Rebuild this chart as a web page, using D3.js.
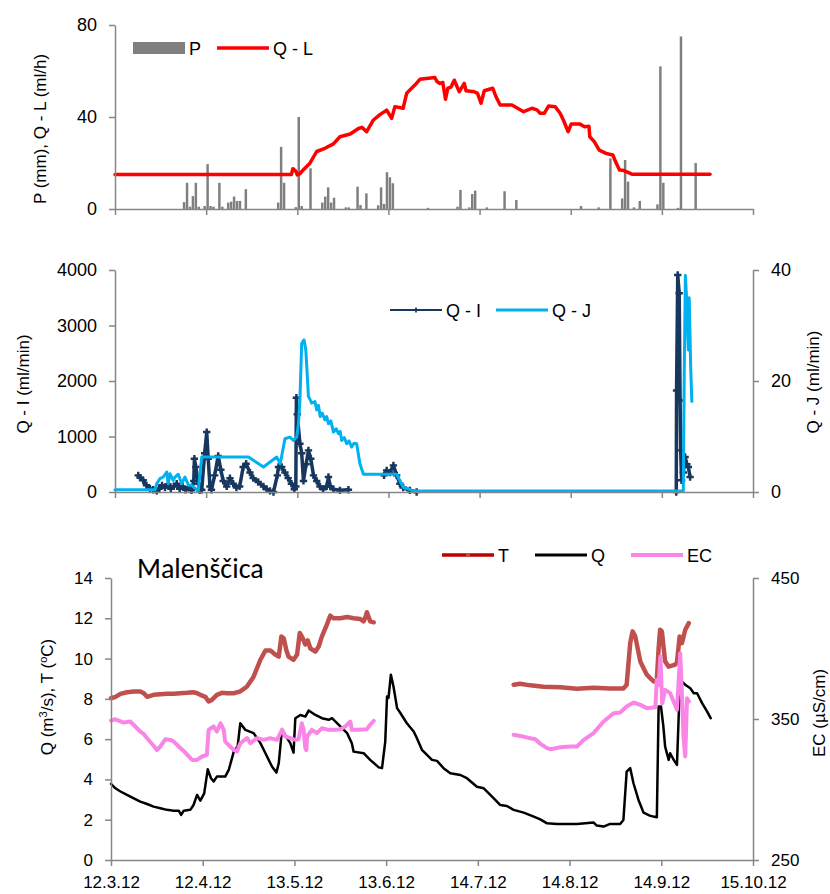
<!DOCTYPE html>
<html>
<head>
<meta charset="utf-8">
<script src="https://cdn.jsdelivr.net/npm/d3@7"></script>
<style>
  body { margin: 0; background: #fff; }
  svg { font-family: "Liberation Sans", Arial, sans-serif; }
</style>
</head>
<body>
<svg id="chart" width="830" height="894"></svg>
<script>
// every x value is the number of days since 12.3.2012
var START = Date.UTC(2012, 2, 12);
var tickDays = [0, 31, 62, 93, 124, 155, 186, 217];
var tickLabels = ['12.3.12', '12.4.12', '13.5.12', '13.6.12', '14.7.12', '14.8.12', '14.9.12', '15.10.12'];

// daily precipitation P (mm)
var pDays = [23, 24, 25, 26, 27, 28, 30, 31, 32, 33, 35, 36, 38, 39, 40, 41, 42, 44, 55, 56, 57, 61, 62, 63, 66,
  70, 71, 72, 73, 74, 78, 79, 82, 83, 85, 89, 90, 91, 92, 93, 94, 106, 116, 117, 120, 121, 122, 126, 132, 136,
  158, 164, 168, 172, 173, 174, 176, 178, 184, 185, 186, 191, 192, 197];
var pValues = [3, 11.4, 1, 5.6, 11.4, 1, 1.3, 19.5, 1.3, 1, 11.4, 1, 2.8, 3.2, 5.4, 3.5, 3.5, 8.6, 2.8, 27, 11.4, 0.8, 40, 1.3, 17.7,
  2.8, 5.4, 9.4, 2.8, 4.9, 0.7, 0.7, 9.7, 1.7, 6.8, 1.6, 9.4, 2.2, 16, 13.8, 11.2, 0.5, 1, 8.3, 0.7, 6.5, 8, 0.7, 7.7, 3.9,
  1.3, 0.7, 22, 4.6, 21.3, 11.9, 0.7, 3.5, 2, 62, 11.4, 0.5, 75, 20];

// Q - L (ml/h)
var qL = [[0, 15], [60, 15], [60.5, 17.5], [61.5, 16.5], [62, 14.8], [63, 15.5], [64, 17], [66.3, 19.9], [68.6, 25],
  [71.4, 26.4], [74.3, 28.3], [76.5, 31.4], [80, 32.6], [82.8, 35], [84, 35.5], [85.6, 33.6], [87.9, 38.7], [90, 40.9],
  [92.4, 43], [94.1, 39.4], [95.2, 44.5], [98, 43.8], [99.2, 50.3], [102, 53.9], [103.7, 56.4], [108.8, 57.2],
  [109.5, 55.4], [110.5, 54.6], [111.5, 55], [112.4, 47.7], [113.2, 52.5], [114.3, 53], [115.4, 56], [117.1, 51],
  [118.8, 54.6], [119.4, 51.4], [122.2, 51], [123.3, 50.3], [124.5, 46], [125.6, 51.4], [128.5, 52.5], [129.6, 48.8],
  [131, 45.2], [135, 45.2], [139, 42.3], [141.8, 43.8], [143.5, 43.1], [144.6, 41.6], [146, 41.6], [147.5, 44.8],
  [149.7, 44.5], [151.4, 41.6], [152.5, 38.7], [154.1, 33.6], [155.2, 37], [158, 37], [159.7, 35.8], [161.2, 36],
  [161.5, 31.4], [163, 29.3], [164.7, 25.6], [167, 24.2], [169.3, 23.5], [170.5, 19.9], [171.6, 17], [173.1, 16.7],
  [176, 15.1], [202.4, 15.1]];

// Q - I (ml/min), null = no record
var qI = [[7.9, 300], [8.5, 260], [9.6, 210], [10.7, 120], [11.9, 60], [13, 40], [14.2, 20], [15, 60], [16, 120], [17, 80],
  [18, 140], [19, 60], [20, 100], [21, 150], [22, 60], [23, 100], [24, 40], [25, 80], [26, 30], [26.8, 200], [27, 600],
  [27.5, 450], [28.3, 150], [28.8, 30], [29.5, 40], [30.5, 700], [31.2, 1080], [31.7, 600], [32.3, 100], [32.8, 40],
  [33.9, 300], [35.1, 650], [36, 400], [36.8, 200], [38, 100], [39.1, 250], [40.2, 150], [41.3, 80], [42.4, 100],
  [43.6, 450], [44.6, 510], [45.9, 350], [47, 250], [48.7, 180], [50.5, 100], [51.6, 50], [52.7, 20], [53.9, 0],
  [55.2, 300], [55.6, 450], [56.7, 450], [57.8, 350], [58.9, 250], [60, 150], [61, 50], [61.5, 100], [61.7, 1700],
  [62, 1400], [62.9, 870], [63.5, 700], [64.1, 200], [65, 500], [65.8, 750], [66.6, 600], [67.5, 300], [68.6, 200],
  [69.7, 100], [70.8, 50], [72, 100], [72.6, 270], [73.2, 100], [74.3, 50], [76.5, 30], [79.4, 40], [80, null],
  [91.5, 300], [92.4, 390], [93.5, 350], [94.7, 480], [95.8, 300], [96.9, 150], [98, 80], [100.3, 30], [102.6, 0],
  [103, null], [190.9, 0], [191, 1830], [191.4, 3910], [191.9, 3580], [192.2, 1650], [192.4, 750], [192.7, 210],
  [193.3, 350], [193.9, 630], [194.5, 500], [195, 450], [195.6, 270]];

// Q - J (ml/min), right axis
var qJ = [[0, 0.4], [13.6, 0.4], [14.2, 1.5], [15.3, 2.4], [16.4, 2.7], [17.6, 3.6], [18.1, 1.5], [18.7, 3.3], [19.8, 2.1],
  [20.4, 2.7], [21.5, 3.2], [22.7, 1.5], [23.8, 2.7], [25, 1.2], [26.1, 1.2], [28.3, 0.2], [29.5, 6.3], [45.4, 6.3],
  [50.5, 4.5], [55, 6.3], [56.2, 5.1], [57.8, 9.6], [59.5, 9.9], [60.7, 9.3], [61.8, 9.9], [62.4, 12.3], [62.9, 16.6],
  [63.5, 26.8], [64.3, 27.4], [64.9, 25.6], [65.8, 17.2], [66.4, 16.6], [66.9, 16], [68, 16.3], [68.6, 14.8],
  [69.2, 15.6], [69.8, 13.6], [70.5, 14.2], [71.4, 13], [72, 13.6], [72.6, 12.3], [73.4, 12.8], [74.3, 10.8],
  [75.2, 11.4], [76, 10.5], [76.6, 10.9], [77.1, 9.3], [78, 9.8], [78.8, 8.7], [79.6, 9.2], [80.5, 8.1], [81.3, 8.8],
  [82.2, 8.7], [83.3, 5.1], [84.5, 3.2], [95.8, 3.2], [98, 0.9], [101.5, 0.2], [193.3, 0.2], [193.6, 20.8],
  [194, 39], [194.4, 35], [195, 25.6], [195.3, 35], [195.8, 22.6], [196.2, 16.3]];

// Malenščica: T (°C), Q (m3/s), EC (µS/cm)
var tData = [[0, 8.03], [1.5, 8.1], [3.2, 8.25], [5.4, 8.33], [7.7, 8.37], [9.9, 8.37], [11.1, 8.28], [12.2, 8.1],
  [14.4, 8.2], [16.7, 8.23], [18.9, 8.25], [21.2, 8.25], [23.4, 8.28], [25.7, 8.3], [27.9, 8.33], [29.1, 8.28],
  [30.2, 8.2], [31.9, 8.1], [33, 7.87], [34.1, 7.95], [35.8, 8.2], [37.5, 8.3], [39.2, 8.28], [41.5, 8.28],
  [43.7, 8.37], [45.9, 8.6], [48.2, 9.1], [50.5, 9.94], [52.2, 10.4], [53.9, 10.4], [55.5, 10.2], [56.7, 10.1],
  [57.6, 11.1], [58.4, 11], [59.3, 10.4], [60, 10.1], [61.7, 9.94], [62.9, 10.2], [63.8, 11.27], [64.5, 11.1],
  [65.7, 10.7], [66.5, 10.9], [67.4, 10.5], [69.1, 10.35], [70.2, 10.6], [71.3, 11.1], [73, 11.7], [74.1, 12.13],
  [75.2, 12], [77.5, 12], [79.8, 12.06], [82, 12], [84.3, 11.96], [85.4, 11.85], [86, 12.05], [86.5, 12.3],
  [87.6, 11.85], [88.8, 11.8], [100, null],
  [136.1, 8.7], [138.3, 8.75], [141.7, 8.67], [146.2, 8.6], [151.9, 8.58], [157.5, 8.5], [163.1, 8.55], [168.7, 8.52],
  [173.2, 8.52], [174.3, 8.7], [175.5, 10.77], [176.3, 11.35], [177.2, 11.1], [178.9, 9.86], [181.1, 9.2],
  [183.4, 8.86], [184.5, 8.95], [185.1, 10.5], [185.6, 11.43], [186.2, 11.35], [187.3, 9.86], [188.5, 9.6],
  [190.7, 9.7], [191.3, 9.8], [192.2, 11.1], [193, 10.77], [194.1, 11.43], [195.3, 11.76]];

var qData = [[0, 3.78], [1.5, 3.56], [3.2, 3.4], [5.4, 3.23], [7.7, 3.06], [9.9, 2.9], [12.2, 2.78], [14.4, 2.65],
  [16.7, 2.57], [18.9, 2.49], [21.2, 2.45], [22.9, 2.45], [23.7, 2.24], [24.6, 2.45], [26.8, 2.49], [27.9, 2.73],
  [29.1, 3.23], [30.2, 2.95], [31.5, 3.31], [32.7, 4.5], [33.8, 4.06], [34.7, 3.9], [35.8, 4.14], [38.6, 4.14],
  [39.8, 4.47], [41.5, 5.38], [42.8, 5.63], [43.7, 6.79], [45.4, 6.46], [48.2, 6.3], [50.5, 5.8], [52.2, 5.3],
  [53.3, 4.97], [54.4, 4.64], [55.9, 4.34], [56.7, 4.8], [57.8, 6.5], [59.5, 6.05], [60.6, 5.8], [61.7, 5.33],
  [62.3, 7.04], [64, 7.2], [65.7, 7.12], [66.8, 7.42], [69.1, 7.2], [71.3, 7.04], [73.6, 6.96], [74.7, 7.04],
  [76.4, 6.79], [79.8, 6.3], [81.4, 5.8], [82, 5.38], [85.4, 5.3], [87.6, 4.97], [90.5, 4.6], [91.6, 4.56],
  [92.7, 5.88], [93.3, 8.12], [93.8, 8.05], [94.6, 9.2], [95.5, 8.6], [96.7, 7.54], [97.8, 7.3], [100, 6.79],
  [102.3, 6.38], [103.4, 6.05], [105.1, 5.47], [106.8, 5.22], [108.5, 4.97], [110.2, 4.92], [112.4, 4.56],
  [114.7, 4.31], [118.1, 4.22], [120.3, 4.06], [123.7, 3.64], [126, 3.56], [128.8, 3.15], [131.6, 2.73],
  [133.8, 2.68], [136.1, 2.49], [139.5, 2.35], [142.9, 2.15], [145.1, 2.02], [147.4, 1.82], [150.7, 1.79],
  [157.5, 1.79], [163.1, 1.86], [164.2, 1.71], [166.5, 1.66], [168.7, 1.79], [172.1, 1.79], [173.2, 1.99],
  [174.3, 4.39], [175.5, 4.56], [176.6, 3.81], [178.3, 2.98], [180, 2.35], [182.3, 2.19], [184.5, 2.12],
  [185.1, 7.62], [185.9, 7.62], [186.7, 6.63], [187.3, 5.63], [188.5, 4.97], [189, 5.3], [190.2, 4.97],
  [191.3, 4.72], [192, 7.62], [193, 8.86], [194.1, 8.7], [195.8, 8.53], [197, 8.28], [198.1, 8.28], [199.8, 7.79],
  [201.5, 7.37], [202.7, 7.04]];

var ecData = [[0, 348.9], [1.5, 349.8], [4.3, 347.5], [6.5, 348.2], [8.2, 344.7], [9.9, 341.1], [11, 339.5], [12.2, 336.4],
  [14.4, 331], [15.5, 328], [16.7, 330.5], [18.4, 335.7], [20.1, 335.2], [21.2, 334], [22.9, 330.5], [25.1, 326.2],
  [27.4, 321], [29.1, 321], [30.8, 323.4], [32.4, 324.6], [33, 342.3], [34.7, 344.7], [35.8, 341.1], [37, 347],
  [38.1, 342.3], [38.6, 334], [40.3, 330.5], [41.5, 328.1], [42.6, 327], [43.7, 332.8], [46, 336.4], [47.1, 332.8],
  [49.3, 336.4], [51.6, 335.2], [53.8, 336.4], [56.1, 335.2], [57.8, 342.3], [58.9, 337.6], [60.6, 336.4],
  [62.3, 335.2], [63.4, 335.7], [64.5, 347], [65.1, 342.3], [65.7, 329.3], [66, 328], [66.3, 337.6], [67.9, 342.3],
  [69.6, 340], [71.3, 343.5], [73.6, 342.3], [75.8, 342.3], [77.5, 342.8], [79.2, 344.7], [80.9, 348.2],
  [81.4, 342.3], [83.1, 342.3], [86.5, 342.8], [87.6, 345.9], [88.8, 348.7], [100, null],
  [136.1, 338.8], [138.3, 338], [141.7, 336.4], [143.4, 335.7], [145.1, 332.4], [147.4, 329.3], [148.5, 328.6],
  [151.9, 330], [155.3, 330.5], [157.5, 330.5], [159.8, 335.2], [163.1, 340], [166.5, 348.2], [169.9, 354.1],
  [172.1, 354.6], [174.3, 358.9], [176.6, 361.7], [178.9, 360], [181.1, 357.7], [184, 358.4], [184.5, 377.8],
  [185.1, 374], [185.7, 394.4], [186.3, 361.2], [187.3, 370.7], [189, 368.3], [191.3, 356.5], [192.4, 396.7],
  [193, 366], [193.5, 337.6], [194.1, 323.4], [194.7, 364.8], [195.3, 362.4]];

var GREY = '#868686';
var FONT = '"Liberation Sans", Arial, sans-serif';
var svg = d3.select('#chart');

function dayToDate(d) {
  return new Date(START + d * 864e5);
}

var xTop = d3.scaleUtc().domain([dayToDate(0), dayToDate(217)]).range([115, 753]);
var xBot = d3.scaleUtc().domain([dayToDate(0), dayToDate(217)]).range([111, 753]);

var yP = d3.scaleLinear().domain([0, 80]).range([209, 25]);
var yI = d3.scaleLinear().domain([0, 4000]).range([492, 270]);
var yJ = d3.scaleLinear().domain([0, 40]).range([492, 270]);
var yQ = d3.scaleLinear().domain([0, 14]).range([860, 578]);
var yEC = d3.scaleLinear().domain([250, 450]).range([860, 578]);

function styleAxis(g, size) {
  g.attr('font-family', FONT).attr('font-size', size);
  g.select('.domain').attr('stroke', GREY).attr('stroke-width', 1.5);
  g.selectAll('.tick line').attr('stroke', GREY).attr('stroke-width', 1.5);
  g.selectAll('.tick text').attr('fill', '#000');
}

function drawXaxis(x, y, withLabels) {
  var axis = d3.axisBottom(x)
    .tickValues(tickDays.map(dayToDate))
    .tickSize(6).tickSizeOuter(0).tickPadding(10)
    .tickFormat(function (d, i) { return withLabels ? tickLabels[i] : ''; });
  var g = svg.append('g').attr('transform', 'translate(0,' + y + ')').call(axis);
  styleAxis(g, 17);
}

function drawYaxis(axis, xPos, values, size) {
  var g = svg.append('g').attr('transform', 'translate(' + xPos + ',0)')
    .call(axis.tickValues(values).tickFormat(d3.format('d'))
      .tickSize(6).tickSizeOuter(0).tickPadding(12));
  styleAxis(g, size);
}

function axisTitle(x, y, parts, size) {
  var t = svg.append('text')
    .attr('transform', 'translate(' + x + ',' + y + ') rotate(-90)')
    .attr('text-anchor', 'middle').attr('dy', '0.35em')
    .style('font-size', size + 'px').attr('fill', '#000');
  parts.forEach(function (p) {
    var s = t.append('tspan').text(p.text);
    if (p.sup) s.attr('baseline-shift', 'super').style('font-size', (size * 0.65) + 'px');
  });
}

function lineGen(x, y) {
  return d3.line()
    .defined(function (d) { return d[1] != null; })
    .x(function (d) { return x(dayToDate(d[0])); })
    .y(function (d) { return y(d[1]); });
}

function drawLine(data, x, y, color, width) {
  svg.append('path')
    .attr('d', lineGen(x, y)(data))
    .attr('fill', 'none')
    .attr('stroke', color)
    .attr('stroke-width', width)
    .attr('stroke-linejoin', 'round')
    .attr('stroke-linecap', 'round');
}

function legendItem(x, y, color, width, label, marker) {
  svg.append('line').attr('x1', x).attr('x2', x + 52).attr('y1', y).attr('y2', y)
    .attr('stroke', color).attr('stroke-width', width);
  if (marker) {
    svg.append('path').attr('d', d3.symbol().type(marker.type).size(marker.size)())
      .attr('transform', 'translate(' + (x + 26) + ',' + y + ')').attr('fill', marker.color);
  }
  svg.append('text').attr('x', x + 56).attr('y', y + 6.5).text(label)
    .style('font-size', '18px').attr('fill', '#000');
}

// ---------- top panel: P and Q - L ----------
var dayW = xTop(dayToDate(1)) - xTop(dayToDate(0));
svg.append('g').selectAll('rect')
  .data(pDays)
  .enter().append('rect')
  .attr('x', function (d) { return xTop(dayToDate(d)) + dayW * 0.08; })
  .attr('width', dayW * 0.84)
  .attr('y', function (d, i) { return yP(pValues[i]); })
  .attr('height', function (d, i) { return yP(0) - yP(pValues[i]); })
  .attr('fill', '#7f7f7f');

drawLine(qL, xTop, yP, '#ff0000', 3.5);
drawXaxis(xTop, 209, false);
drawYaxis(d3.axisLeft(yP), 115, [0, 40, 80], 18);
axisTitle(40, 129, [{ text: 'P (mm),  Q - L (ml/h)' }], 17);

svg.append('rect').attr('x', 133).attr('y', 42).attr('width', 52).attr('height', 12).attr('fill', '#7f7f7f');
svg.append('text').attr('x', 189).attr('y', 54.5).text('P').style('font-size', '18px');
legendItem(217, 48, '#ff0000', 3.5, 'Q - L');

// ---------- middle panel: Q - I and Q - J ----------
drawLine(qI, xTop, yI, '#17375e', 3.5);
svg.append('g').selectAll('path')
  .data(qI.filter(function (d) { return d[1] != null; }))
  .enter().append('path')
  .attr('d', d3.symbol().type(d3.symbolCross).size(30)())
  .attr('transform', function (d) { return 'translate(' + xTop(dayToDate(d[0])) + ',' + yI(d[1]) + ')'; })
  .attr('fill', '#17375e');
drawLine(qJ, xTop, yJ, '#00b0f0', 3);

drawXaxis(xTop, 492, false);
drawYaxis(d3.axisLeft(yI), 115, [0, 1000, 2000, 3000, 4000], 18);
drawYaxis(d3.axisRight(yJ), 753, [0, 20, 40], 18);
axisTitle(23, 384, [{ text: 'Q - I (ml/min)' }], 17);
axisTitle(813, 382, [{ text: 'Q - J (ml/min)' }], 17);

legendItem(390, 310, '#17375e', 2, 'Q - I', { type: d3.symbolCross, size: 14, color: '#17375e' });
legendItem(496, 310, '#00b0f0', 3, 'Q - J');

// ---------- bottom panel: Malenščica ----------
drawLine(tData, xBot, yQ, '#c0504d', 4.5);
drawLine(qData, xBot, yQ, '#000000', 2.5);
drawLine(ecData, xBot, yEC, '#f986e6', 4);

drawXaxis(xBot, 860, true);
drawYaxis(d3.axisLeft(yQ), 111, d3.range(0, 15, 2), 17);
drawYaxis(d3.axisRight(yEC), 753, [250, 350, 450], 17);
axisTitle(47, 697, [{ text: 'Q (m' }, { text: '3', sup: true }, { text: '/s), T (' }, { text: 'o', sup: true }, { text: 'C)' }], 17);
axisTitle(819, 713, [{ text: 'EC (µS/cm)' }], 17);

svg.append('text').attr('x', 137).attr('y', 578).text('Malenščica')
  .style('font-family', 'Carlito, "Open Sans", sans-serif').style('font-size', '28px');

legendItem(442, 555, '#c00000', 3.5, 'T', { type: d3.symbolCircle, size: 14, color: '#c0504d' });
legendItem(535, 555, '#000000', 3, 'Q');
legendItem(631, 555, '#f986e6', 4, 'EC');
</script>
</body>
</html>
